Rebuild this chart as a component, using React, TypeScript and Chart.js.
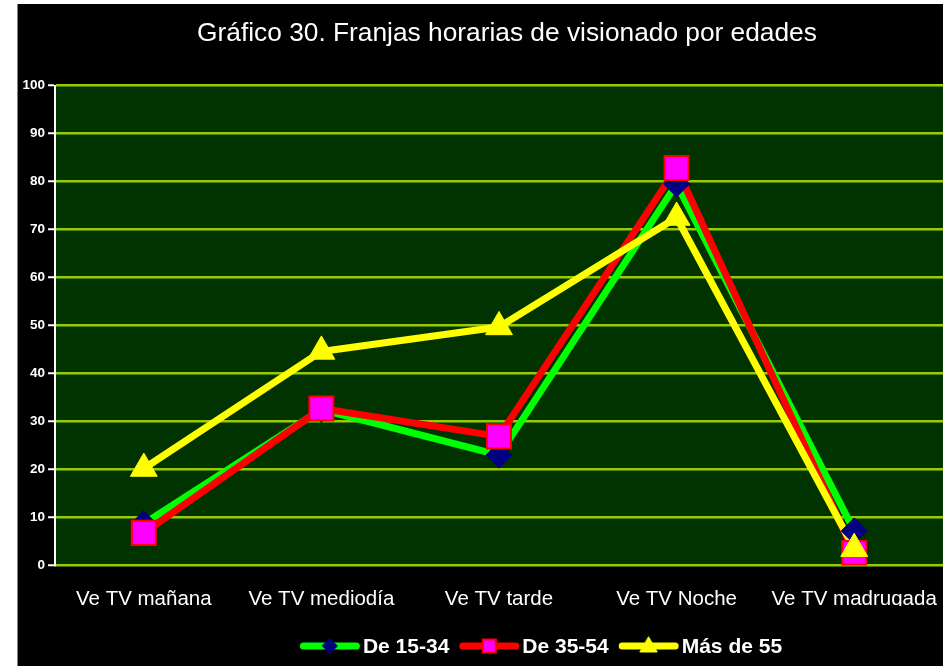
import React, { useEffect, useRef } from "react";
import { Chart, registerables } from "chart.js";

Chart.register(...registerables);

const titleText = "Gráfico 30. Franjas horarias de visionado por edades";
const categories = ["Ve TV mañana", "Ve TV mediodía", "Ve TV tarde", "Ve TV Noche", "Ve TV madrugada"];
const seriesNames = ["De 15-34", "De 35-54", "Más de 55"];
const de15a34 = [8.7, 32.5, 23, 79.5, 7.2];
const de35a54 = [6.8, 32.7, 26.9, 82.8, 2.6];
const mas55 = [20.2, 44.6, 49.7, 72.5, 3.5];
const yMin = 0;
const yMax = 100;
const yStep = 10;

const lineColors = ["#00FF00", "#FF0000", "#FFFF00"];
const markerFill = ["#000080", "#FF00FF", "#FFFF00"];
const markerBorder = ["#000080", "#FF0000", "#FFFF00"];
const markerStyles = ["rectRot", "rect", "triangle"];
const markerRadius = [13, 17, 15.5];

function drawMarker(ctx: CanvasRenderingContext2D, i: number, x: number, y: number) {
  ctx.save();
  ctx.fillStyle = markerFill[i];
  ctx.strokeStyle = markerBorder[i];
  ctx.lineWidth = i === 1 ? 2 : 1;
  ctx.beginPath();
  if (i === 0) {
    const r = 7.5;
    ctx.moveTo(x, y - r);
    ctx.lineTo(x + r, y);
    ctx.lineTo(x, y + r);
    ctx.lineTo(x - r, y);
    ctx.closePath();
  } else if (i === 1) {
    const s = 6.5;
    ctx.rect(x - s, y - s, 2 * s, 2 * s);
  } else {
    ctx.moveTo(x, y - 9);
    ctx.lineTo(x + 8.5, y + 6);
    ctx.lineTo(x - 8.5, y + 6);
    ctx.closePath();
  }
  ctx.fill();
  ctx.stroke();
  ctx.restore();
}

const bgPlugin = {
  id: "bgPlugin",
  beforeDraw(chart: any) {
    const { ctx, chartArea, width, height } = chart;
    ctx.save();
    ctx.fillStyle = "#000000";
    ctx.fillRect(0, 0, width, height);
    ctx.fillStyle = "#003300";
    ctx.fillRect(chartArea.left, chartArea.top, chartArea.right - chartArea.left, chartArea.bottom - chartArea.top);
    ctx.restore();
  },
};

const titlePlugin = {
  id: "customTitle",
  afterDraw(chart: any) {
    const ctx: CanvasRenderingContext2D = chart.ctx;
    ctx.save();
    ctx.font = "normal 26.3px 'Liberation Sans', Arial, sans-serif";
    ctx.fillStyle = "#FFFFFF";
    ctx.textAlign = "center";
    ctx.textBaseline = "middle";
    ctx.fillText(titleText, chart.width / 2, 30);
    ctx.restore();
  },
};

const legendPlugin = {
  id: "customLegend",
  afterDraw(chart: any) {
    const ctx: CanvasRenderingContext2D = chart.ctx;
    ctx.save();
    ctx.font = "bold 21px 'Liberation Sans', Arial, sans-serif";
    const lineLen = 60;
    const gap = 3;
    const itemGap = 10;
    const widths = seriesNames.map((n) => lineLen + gap + ctx.measureText(n).width);
    const total = widths.reduce((a, b) => a + b, 0) + itemGap * (seriesNames.length - 1);
    const cx = 523;
    const y = 642;
    let x = cx - total / 2;
    seriesNames.forEach((name, i) => {
      ctx.strokeStyle = lineColors[i];
      ctx.lineWidth = 7;
      ctx.lineCap = "round";
      ctx.beginPath();
      ctx.moveTo(x + 3.5, y);
      ctx.lineTo(x + lineLen - 3.5, y);
      ctx.stroke();
      drawMarker(ctx, i, x + lineLen / 2, y);
      ctx.fillStyle = "#FFFFFF";
      ctx.textAlign = "left";
      ctx.textBaseline = "middle";
      ctx.fillText(name, x + lineLen + gap, y + 1);
      x += widths[i] + itemGap;
    });
    ctx.restore();
  },
};

export default function App() {
  const canvasRef = useRef<HTMLCanvasElement | null>(null);

  useEffect(() => {
    const canvas = canvasRef.current;
    if (!canvas) return;
    const series = [de15a34, de35a54, mas55];
    const lineSets = series.map((data, i) => ({
      label: seriesNames[i],
      data,
      borderColor: lineColors[i],
      backgroundColor: lineColors[i],
      borderWidth: 7,
      borderJoinStyle: "round" as const,
      tension: 0,
      fill: false,
      pointRadius: 0,
      pointHoverRadius: 0,
      order: 6 - i,
    }));
    const markerSets = series.map((data, i) => ({
      label: seriesNames[i] + " marcador",
      data,
      showLine: false,
      pointStyle: markerStyles[i],
      pointRadius: markerRadius[i],
      pointHoverRadius: markerRadius[i],
      pointBackgroundColor: markerFill[i],
      pointBorderColor: markerBorder[i],
      pointBorderWidth: i === 1 ? 2 : 1,
      borderColor: markerBorder[i],
      backgroundColor: markerFill[i],
      order: 3 - i,
    }));

    const chart = new Chart(canvas, {
      type: "line",
      data: { labels: categories, datasets: [...lineSets, ...markerSets] as any },
      options: {
        responsive: false,
        animation: false,
        devicePixelRatio: 1,
        events: [],
        layout: { padding: { left: 0, right: 53, top: 81.5, bottom: 60 } },
        plugins: {
          legend: { display: false },
          tooltip: { enabled: false },
          title: { display: false },
        },
        scales: {
          x: {
            offset: true,
            grid: { display: false, drawTicks: false },
            border: { display: false },
            ticks: {
              color: "#FFFFFF",
              font: { family: "'Liberation Sans', Arial, sans-serif", size: 20.5 },
              padding: 22,
              maxRotation: 0,
              autoSkip: false,
            },
            afterFit: (s: any) => {
              s.height = 40.5;
            },
          },
          y: {
            min: yMin,
            max: yMax,
            ticks: {
              stepSize: yStep,
              color: "#FFFFFF",
              font: { family: "'Liberation Sans', Arial, sans-serif", size: 13.5, weight: "bold" },
              padding: 3,
            },
            grid: { color: "#99CC00", lineWidth: 2.5, tickColor: "#FFFFFF", tickLength: 7, tickWidth: 2 },
            border: { display: true, color: "#FFFFFF", width: 2 },
            afterFit: (s: any) => {
              s.width = 37;
            },
          },
        },
      },
      plugins: [bgPlugin, titlePlugin, legendPlugin],
    });
    return () => chart.destroy();
  }, []);

  return (
    <div
      style={{
        position: "absolute",
        left: 17,
        top: 4,
        width: 926,
        height: 662,
        overflow: "hidden",
        background: "#000",
        borderLeft: "1px solid #808080",
      }}
    >
      <canvas ref={canvasRef} width={978} height={662} style={{ width: 978, height: 662, display: "block" }} />
    </div>
  );
}
